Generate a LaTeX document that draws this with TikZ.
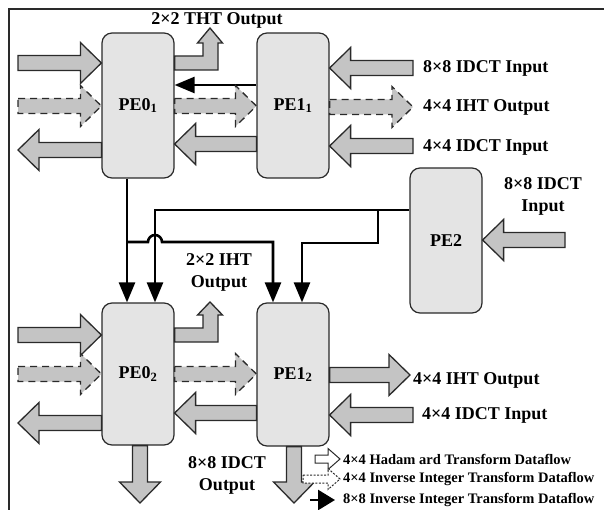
\documentclass[tikz,border=0pt]{standalone}
\usepackage{fontspec}
\setmainfont{Liberation Serif}
\usetikzlibrary{arrows.meta, calc}
\definecolor{cbox}{HTML}{E4E4E4}
\definecolor{cfat}{HTML}{C4C4C4}
\definecolor{cdark}{HTML}{2A2A2A}
\tikzset{
  pe/.style={draw=cdark, fill=cbox, rounded corners=10pt, line width=1.2pt, minimum width=72pt, inner sep=0pt, font=\fontsize{18}{21}\selectfont\bfseries},
  fat/.style={draw=cdark, fill=cfat, line width=1.3pt, line join=miter},
  fatdash/.style={fat, dash pattern=on 7pt off 5pt},
  flow/.style={draw=black, line width=2.6pt, -{Triangle[length=20pt,width=16pt]}},
  lbl/.style={font=\fontsize{18}{22}\selectfont\bfseries, inner sep=0pt, align=center},
  legend/.style={font=\fontsize{14.5}{17}\selectfont\bfseries, inner sep=0pt, anchor=west},
}
% fat block arrow: [style]{(start)}{(tip)}
\newcommand{\fbw}{7.5pt}
\newcommand{\fhw}{20.5pt}
\newcommand{\fhl}{21pt}
\newcommand{\fatarrow}[3][]{%
  \coordinate (fs) at #2;
  \coordinate (ft) at #3;
  \coordinate (fb) at ($(ft)!\fhl!(fs)$);
  \draw[fat,#1] ($(fs)!\fbw!90:(ft)$) -- ($(fb)!\fbw!90:(ft)$) -- ($(fb)!\fhw!90:(ft)$) -- (ft)
    -- ($(fb)!\fhw!-90:(ft)$) -- ($(fb)!\fbw!-90:(ft)$) -- ($(fs)!\fbw!-90:(ft)$) -- cycle;
}

\begin{document}
\begin{tikzpicture}[x=1pt, y=-1pt]
  \useasboundingbox (0,0) rectangle (604,510);
  \draw[cdark, line width=1.6pt] (9,510) -- (9,9) -- (604,9);

  % processing elements
  \node[pe, minimum height=145pt] (pe01) at (138,105.5) {PE0\textsubscript{1}};
  \node[pe, minimum height=145pt] (pe11) at (293,105.5) {PE1\textsubscript{1}};
  \node[pe, minimum height=145pt] (pe2) at (446,240.5) {PE2};
  \node[pe, minimum height=142pt] (pe02) at (138,374) {PE0\textsubscript{2}};
  \node[pe, minimum height=143pt] (pe12) at (293,374.5) {PE1\textsubscript{2}};

  % free ends
  \coordinate (in01a) at (18,63);
  \coordinate (in01b) at (18,106);
  \coordinate (out01) at (18,150);
  \coordinate (in11a) at (413,68);
  \coordinate (out11) at (413,107);
  \coordinate (in11b) at (413,146);
  \coordinate (in2) at (565,240);
  \coordinate (in02a) at (18,335);
  \coordinate (in02b) at (18,374);
  \coordinate (out02) at (18,423);
  \coordinate (out02d) at (140,503);
  \coordinate (out12) at (410,375);
  \coordinate (in12) at (413,415);
  \coordinate (out12d) at (294,503);
  \coordinate (tht) at (210,28);
  \coordinate (iht) at (210,302);

  % upper row
  \fatarrow{(in01a)}{(pe01.west |- in01a)}
  \fatarrow[fatdash]{(in01b)}{(pe01.west |- in01b)}
  \fatarrow{(pe01.west |- out01)}{(out01)}
  \draw[fat] (pe01.east |- 0,56) -- (203,56) -- (203,43) -- (197.5,43) -- (tht) -- (222.5,43)
    -- (218,43) -- (218,70) -- (pe01.east |- 0,70) -- cycle;
  \draw[flow] (pe11.west |- 0,85) -- (pe01.east |- 0,85);
  \fatarrow[fatdash]{(pe01.east |- 0,106)}{(pe11.west |- 0,106)}
  \fatarrow{(pe11.west |- 0,144)}{(pe01.east |- 0,144)}
  \fatarrow{(in11a)}{(pe11.east |- in11a)}
  \fatarrow[fatdash]{(pe11.east |- out11)}{(out11)}
  \fatarrow{(in11b)}{(pe11.east |- in11b)}
  \fatarrow{(in2)}{(pe2.east |- in2)}

  % links to lower row
  \coordinate (ja) at (127,242);
  \coordinate (jb) at (378,210);
  \draw[flow] (pe01.south -| ja) -- (pe02.north -| ja);
  \draw[flow] (ja) -- (148,242) arc[start angle=180, end angle=0, radius=7pt] -- (273,242) -- (pe12.north -| 273,0);
  \draw[flow] (pe2.west |- jb) -- (155,210) -- (pe02.north -| 155,0);
  \draw[flow] (jb) -- (378,243) -- (302,243) -- (pe12.north -| 302,0);

  % lower row
  \fatarrow{(in02a)}{(pe02.west |- in02a)}
  \fatarrow[fatdash]{(in02b)}{(pe02.west |- in02b)}
  \fatarrow{(pe02.west |- out02)}{(out02)}
  \draw[fat] (pe02.east |- 0,328) -- (203,328) -- (203,315) -- (197.5,315) -- (iht) -- (222.5,315)
    -- (218,315) -- (218,342) -- (pe02.east |- 0,342) -- cycle;
  \fatarrow[fatdash]{(pe02.east |- 0,374)}{(pe12.west |- 0,374)}
  \fatarrow{(pe12.west |- 0,413)}{(pe02.east |- 0,413)}
  \fatarrow{(pe02.south -| out02d)}{(out02d)}
  \fatarrow{(pe12.south -| out12d)}{(out12d)}
  \fatarrow{(pe12.east |- out12)}{(out12)}
  \fatarrow{(in12)}{(pe12.east |- in12)}

  % labels
  \node[lbl] (tthtlbl) at (217,20) {2×2 THT Output};
  \node[lbl, anchor=west] (tin11a) at (423,68) {8×8 IDCT Input};
  \node[lbl, anchor=west] (tout11) at (423,107) {4×4 IHT Output};
  \node[lbl, anchor=west] (tin11b) at (423,147) {4×4 IDCT Input};
  \node[lbl] (tin2) at (543,196) {8×8 IDCT\\Input};
  \node[lbl] (tiht) at (219,272) {2×2 IHT\\Output};
  \node[lbl] (tout02) at (227,475) {8×8 IDCT\\Output};
  \node[lbl, anchor=west] (tout12) at (413,380) {4×4 IHT Output};
  \node[lbl, anchor=west] (tin12) at (422,415) {4×4 IDCT Input};

  % legend
  \begin{scope}
    \def\fbw{4pt}\def\fhw{10.5pt}\def\fhl{12pt}
    \coordinate (lg1) at (315,459);
    \coordinate (lg2) at (303,479);
    \fatarrow[fill=white, line width=1pt]{(lg1)}{(340,459)}
    \fatarrow[fill=white, line width=1pt, dash pattern=on 2pt off 1.5pt]{(lg2)}{(340,479)}
  \end{scope}
  \coordinate (lg3) at (310,500);
  \draw[flow, -{Triangle[length=17pt,width=20pt]}] (lg3) -- (335,500);
  \node[legend] (leg1) at (343,459) {4×4 Hadam ard Transform Dataflow};
  \node[legend] (leg2) at (343,479) {4×4 Inverse Integer Transform Dataflow};
  \node[legend] (leg3) at (343,500) {8×8 Inverse Integer Transform Dataflow};
\end{tikzpicture}
\end{document}
